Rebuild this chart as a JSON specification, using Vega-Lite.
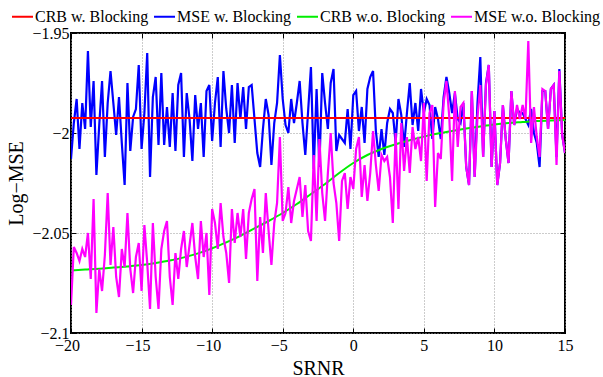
{
"$schema":"https://vega.github.io/schema/vega-lite/v6.json",
"width":494,"height":300,
"autosize":"none",
"padding":{"left":71,"top":33,"right":38,"bottom":44},
"background":"white",
"config":{"font":"Liberation Serif","view":{"stroke":"#000","strokeWidth":2},
"axis":{"labelFont":"Liberation Serif","titleFont":"Liberation Serif","labelColor":"#000","titleColor":"#000","labelFontSize":16,"titleFontSize":20,"titleFontWeight":"normal","domain":false,"tickColor":"#000","tickSize":-5,"tickWidth":1,"labelOverlap":false,"labelFlush":false,"labelBound":false,"grid":true,"gridColor":"#999","gridDash":[1,2],"gridWidth":1,"gridOpacity":1}},
"datasets":{
"w":[
{"x":-20.0,"b":-2.013,"m":-2.086},{"x":-19.8,"b":-1.995,"m":-2.057},{"x":-19.6,"b":-1.983,"m":-2.060},{"x":-19.4,"b":-2.008,"m":-2.064},{"x":-19.2,"b":-1.985,"m":-2.058},{"x":-19.0,"b":-1.998,"m":-2.062},{"x":-18.8,"b":-1.959,"m":-2.050},{"x":-18.6,"b":-1.997,"m":-2.073},{"x":-18.4,"b":-1.974,"m":-2.033},{"x":-18.2,"b":-2.021,"m":-2.090},
{"x":-18.0,"b":-1.996,"m":-2.068},{"x":-17.8,"b":-1.974,"m":-2.079},{"x":-17.6,"b":-2.012,"m":-2.061},{"x":-17.4,"b":-1.985,"m":-2.030},{"x":-17.2,"b":-1.969,"m":-2.066},{"x":-17.0,"b":-1.985,"m":-2.047},{"x":-16.8,"b":-2.001,"m":-2.072},{"x":-16.6,"b":-1.982,"m":-2.082},{"x":-16.4,"b":-2.005,"m":-2.058},{"x":-16.2,"b":-2.026,"m":-2.067},
{"x":-16.0,"b":-1.975,"m":-2.040},{"x":-15.8,"b":-2.009,"m":-2.068},{"x":-15.6,"b":-1.992,"m":-2.080},{"x":-15.4,"b":-1.988,"m":-2.062},{"x":-15.2,"b":-1.966,"m":-2.055},{"x":-15.0,"b":-2.008,"m":-2.079},{"x":-14.8,"b":-1.990,"m":-2.046},{"x":-14.6,"b":-1.960,"m":-2.065},{"x":-14.4,"b":-2.022,"m":-2.088},{"x":-14.2,"b":-1.982,"m":-2.045},
{"x":-14.0,"b":-1.972,"m":-2.072},{"x":-13.8,"b":-2.006,"m":-2.088},{"x":-13.6,"b":-1.970,"m":-2.058},{"x":-13.4,"b":-2.006,"m":-2.049},{"x":-13.2,"b":-1.987,"m":-2.044},{"x":-13.0,"b":-2.007,"m":-2.072},{"x":-12.8,"b":-1.980,"m":-2.086},{"x":-12.6,"b":-2.009,"m":-2.060},{"x":-12.4,"b":-1.976,"m":-2.073},{"x":-12.2,"b":-1.970,"m":-2.058},
{"x":-12.0,"b":-2.012,"m":-2.049},{"x":-11.8,"b":-1.980,"m":-2.067},{"x":-11.6,"b":-1.993,"m":-2.056},{"x":-11.4,"b":-2.014,"m":-2.045},{"x":-11.2,"b":-1.981,"m":-2.062},{"x":-11.0,"b":-1.998,"m":-2.073},{"x":-10.8,"b":-1.985,"m":-2.044},{"x":-10.6,"b":-2.012,"m":-2.062},{"x":-10.4,"b":-1.979,"m":-2.050},{"x":-10.2,"b":-1.976,"m":-2.081},
{"x":-10.0,"b":-2.004,"m":-2.038},{"x":-9.8,"b":-1.985,"m":-2.045},{"x":-9.6,"b":-1.972,"m":-2.058},{"x":-9.4,"b":-2.007,"m":-2.035},{"x":-9.2,"b":-1.969,"m":-2.052},{"x":-9.0,"b":-1.988,"m":-2.060},{"x":-8.8,"b":-2.000,"m":-2.075},{"x":-8.6,"b":-1.976,"m":-2.038},{"x":-8.4,"b":-2.005,"m":-2.055},{"x":-8.2,"b":-1.975,"m":-2.040},
{"x":-8.0,"b":-1.993,"m":-2.052},{"x":-7.8,"b":-1.977,"m":-2.038},{"x":-7.6,"b":-1.998,"m":-2.063},{"x":-7.4,"b":-1.977,"m":-2.040},{"x":-7.2,"b":-1.976,"m":-2.033},{"x":-7.0,"b":-1.993,"m":-2.028},{"x":-6.8,"b":-2.010,"m":-2.074},{"x":-6.6,"b":-2.017,"m":-2.042},{"x":-6.4,"b":-1.998,"m":-2.060},{"x":-6.2,"b":-1.983,"m":-2.030},
{"x":-6.0,"b":-1.991,"m":-2.049},{"x":-5.8,"b":-2.016,"m":-2.066},{"x":-5.6,"b":-1.995,"m":-2.045},{"x":-5.4,"b":-1.985,"m":-2.035},{"x":-5.2,"b":-1.961,"m":-2.002},{"x":-5.0,"b":-1.983,"m":-2.044},{"x":-4.8,"b":-1.996,"m":-2.040},{"x":-4.6,"b":-2.000,"m":-2.027},{"x":-4.4,"b":-1.983,"m":-2.045},{"x":-4.2,"b":-1.995,"m":-2.034},
{"x":-4.0,"b":-1.985,"m":-2.028},{"x":-3.8,"b":-1.974,"m":-2.022},{"x":-3.6,"b":-1.995,"m":-2.042},{"x":-3.4,"b":-2.011,"m":-2.026},{"x":-3.2,"b":-1.989,"m":-2.049},{"x":-3.0,"b":-1.967,"m":-2.054},{"x":-2.8,"b":-2.018,"m":-2.011},{"x":-2.6,"b":-1.978,"m":-2.044},{"x":-2.4,"b":-2.017,"m":-2.003},{"x":-2.2,"b":-1.970,"m":-2.030},
{"x":-2.0,"b":-1.985,"m":-2.044},{"x":-1.8,"b":-1.998,"m":-2.020},{"x":-1.6,"b":-1.975,"m":-2.000},{"x":-1.4,"b":-1.968,"m":-2.025},{"x":-1.2,"b":-2.009,"m":-2.035},{"x":-1.0,"b":-2.001,"m":-2.054},{"x":-0.8,"b":-2.003,"m":-2.024},{"x":-0.6,"b":-2.005,"m":-2.020},{"x":-0.4,"b":-1.988,"m":-2.038},{"x":-0.2,"b":-2.008,"m":-2.022},
{"x":0.0,"b":-1.981,"m":-2.028},{"x":0.2,"b":-1.979,"m":-2.008},{"x":0.4,"b":-1.999,"m":-2.002},{"x":0.6,"b":-1.987,"m":-2.032},{"x":0.8,"b":-2.005,"m":-2.016},{"x":1.0,"b":-1.978,"m":-2.034},{"x":1.2,"b":-1.972,"m":-2.020},{"x":1.4,"b":-1.969,"m":-1.999},{"x":1.6,"b":-1.999,"m":-2.016},{"x":1.8,"b":-2.012,"m":-2.029},
{"x":2.0,"b":-1.998,"m":-2.011},{"x":2.2,"b":-2.011,"m":-2.014},{"x":2.4,"b":-1.995,"m":-2.012},{"x":2.6,"b":-1.988,"m":-2.022},{"x":2.8,"b":-1.990,"m":-2.045},{"x":3.0,"b":-2.005,"m":-2.000},{"x":3.2,"b":-1.983,"m":-2.038},{"x":3.4,"b":-1.991,"m":-1.995},{"x":3.6,"b":-2.007,"m":-2.019},{"x":3.8,"b":-1.990,"m":-2.002},
{"x":4.0,"b":-1.975,"m":-2.020},{"x":4.2,"b":-1.996,"m":-1.997},{"x":4.4,"b":-1.985,"m":-2.008},{"x":4.6,"b":-1.999,"m":-2.002},{"x":4.8,"b":-1.978,"m":-2.014},{"x":5.0,"b":-1.990,"m":-1.985},{"x":5.2,"b":-1.983,"m":-2.024},{"x":5.4,"b":-1.986,"m":-1.990},{"x":5.6,"b":-2.003,"m":-1.986},{"x":5.8,"b":-1.987,"m":-2.037},
{"x":6.0,"b":-1.993,"m":-2.010},{"x":6.2,"b":-2.003,"m":-2.013},{"x":6.4,"b":-1.982,"m":-1.985},{"x":6.6,"b":-1.972,"m":-1.974},{"x":6.8,"b":-1.980,"m":-1.992},{"x":7.0,"b":-1.990,"m":-2.024},{"x":7.2,"b":-1.980,"m":-1.979},{"x":7.4,"b":-1.993,"m":-2.007},{"x":7.6,"b":-1.995,"m":-1.987},{"x":7.8,"b":-1.985,"m":-1.985},
{"x":8.0,"b":-2.017,"m":-2.017},{"x":8.2,"b":-2.026,"m":-2.026},{"x":8.4,"b":-1.979,"m":-1.979},{"x":8.6,"b":-2.022,"m":-2.022},{"x":8.8,"b":-1.985,"m":-1.992},{"x":9.0,"b":-1.962,"m":-1.976},{"x":9.2,"b":-2.012,"m":-2.012},{"x":9.4,"b":-1.975,"m":-1.976},{"x":9.6,"b":-1.966,"m":-1.966},{"x":9.8,"b":-2.017,"m":-2.017},
{"x":10.0,"b":-1.989,"m":-1.989},{"x":10.2,"b":-2.026,"m":-2.026},{"x":10.4,"b":-2.015,"m":-2.015},{"x":10.6,"b":-1.986,"m":-1.986},{"x":10.8,"b":-2.003,"m":-2.003},{"x":11.0,"b":-2.015,"m":-2.015},{"x":11.2,"b":-1.979,"m":-1.979},{"x":11.4,"b":-1.996,"m":-1.996},{"x":11.6,"b":-1.988,"m":-1.986},{"x":11.8,"b":-1.990,"m":-1.993},
{"x":12.0,"b":-1.990,"m":-1.986},{"x":12.2,"b":-1.993,"m":-1.993},{"x":12.4,"b":-1.996,"m":-1.954},{"x":12.6,"b":-1.988,"m":-2.005},{"x":12.8,"b":-2.000,"m":-1.987},{"x":13.0,"b":-2.005,"m":-2.002},{"x":13.2,"b":-2.017,"m":-2.012},{"x":13.4,"b":-1.979,"m":-1.978},{"x":13.6,"b":-1.979,"m":-1.979},{"x":13.8,"b":-1.998,"m":-1.998},
{"x":14.0,"b":-1.978,"m":-1.978},{"x":14.2,"b":-1.976,"m":-1.976},{"x":14.4,"b":-2.012,"m":-2.016},{"x":14.6,"b":-1.968,"m":-1.969},{"x":14.8,"b":-2.001,"m":-2.001},{"x":15.0,"b":-2.010,"m":-2.010}
],
"g":[
{"x":-20,"g":-2.0687},{"x":-19,"g":-2.0683},{"x":-18,"g":-2.0679},{"x":-17,"g":-2.0673},{"x":-16,"g":-2.0667},{"x":-15,"g":-2.0660},{"x":-14,"g":-2.0650},{"x":-13,"g":-2.0638},{"x":-12,"g":-2.0622},{"x":-11,"g":-2.0602},
{"x":-10,"g":-2.0577},{"x":-9,"g":-2.0547},{"x":-8,"g":-2.0514},{"x":-7,"g":-2.0477},{"x":-6,"g":-2.0440},{"x":-5,"g":-2.0400},{"x":-4,"g":-2.0355},{"x":-3,"g":-2.0305},{"x":-2,"g":-2.0255},{"x":-1,"g":-2.0200},
{"x":0,"g":-2.0150},{"x":1,"g":-2.0110},{"x":2,"g":-2.0080},{"x":3,"g":-2.0056},{"x":4,"g":-2.0036},{"x":5,"g":-2.0018},{"x":6,"g":-2.0003},{"x":7,"g":-1.9990},{"x":8,"g":-1.9978},{"x":9,"g":-1.9967},
{"x":10,"g":-1.9957},{"x":11,"g":-1.9950},{"x":12,"g":-1.9945},{"x":13,"g":-1.9940},{"x":14,"g":-1.9937},{"x":15,"g":-1.9935}
],
"r":[{"x":-20,"r":-1.9925},{"x":15,"r":-1.9925}]
},
"resolve":{"axis":{"x":"independent","y":"independent"}},
"layer":[
{"data":{"name":"w"},"mark":{"type":"line","strokeWidth":2.2,"clip":true},
 "encoding":{
  "x":{"field":"x","type":"quantitative","scale":{"domain":[-20,15],"nice":false,"zero":false},
       "axis":{"orient":"bottom","values":[-20,-15,-10,-5,0,5,10,15],"title":"SRNR","labelPadding":9,"titlePadding":5,
               "labelOffset":{"condition":{"test":"datum.value < 0","value":-4},"value":0}}},
  "y":{"field":"b","type":"quantitative","scale":{"domain":[-2.1,-1.95],"nice":false,"zero":false},
       "axis":{"orient":"left","values":[-2.1,-2.05,-2,-1.95],"format":"~g","title":"Log−MSE","labelPadding":7,"titlePadding":5}},
  "color":{"datum":"MSE w. Blocking","type":"nominal",
   "scale":{"domain":["CRB w. Blocking","MSE w. Blocking","CRB w.o. Blocking","MSE w.o. Blocking"],"range":["#ff0000","#0000ff","#00ee00","#ff00ff"]},
   "legend":{"orient":"none","legendX":-60,"legendY":-28,"direction":"horizontal","title":null,"symbolType":"stroke","symbolSize":441,"symbolStrokeWidth":2,
             "labelFont":"Liberation Serif","labelFontSize":16,"labelColor":"#000","labelOffset":1,"columnPadding":1,"padding":0}}
 }},
{"data":{"name":"r"},"mark":{"type":"line","strokeWidth":2,"clip":true},
 "encoding":{
  "x":{"field":"x","type":"quantitative","scale":{"domain":[-20,15],"nice":false,"zero":false},
       "axis":{"orient":"top","values":[-20,-15,-10,-5,0,5,10,15],"labels":false,"title":null,"grid":false}},
  "y":{"field":"r","type":"quantitative","scale":{"domain":[-2.1,-1.95],"nice":false,"zero":false},
       "axis":{"orient":"right","values":[-2.1,-2.05,-2,-1.95],"labels":false,"title":null,"grid":false}},
  "color":{"datum":"CRB w. Blocking","type":"nominal"}
 }},
{"data":{"name":"g"},"mark":{"type":"line","strokeWidth":2,"clip":true,"interpolate":"monotone"},
 "encoding":{
  "x":{"field":"x","type":"quantitative","axis":null},
  "y":{"field":"g","type":"quantitative","axis":null},
  "color":{"datum":"CRB w.o. Blocking","type":"nominal"}
 }},
{"data":{"name":"w"},"mark":{"type":"line","strokeWidth":2.2,"clip":true},
 "encoding":{
  "x":{"field":"x","type":"quantitative","axis":null},
  "y":{"field":"m","type":"quantitative","axis":null},
  "color":{"datum":"MSE w.o. Blocking","type":"nominal"}
 }}
]
}
